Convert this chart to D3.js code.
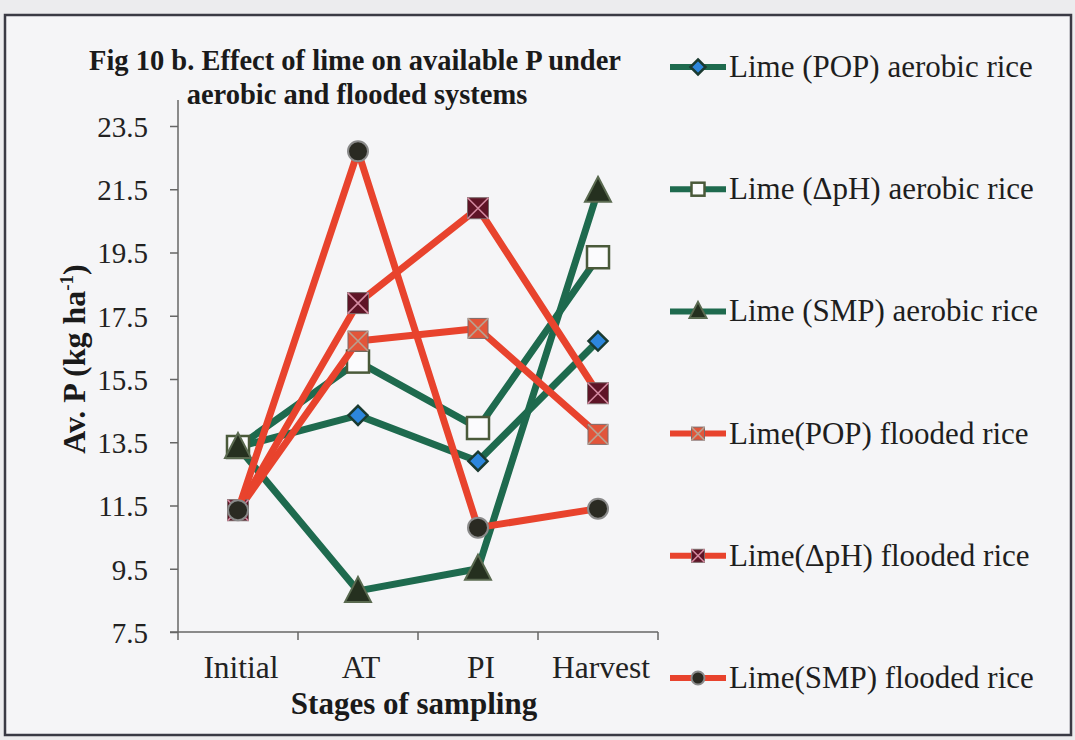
<!DOCTYPE html>
<html>
<head>
<meta charset="utf-8">
<script src="https://cdn.jsdelivr.net/npm/d3@7"></script>
<style>
  body { margin: 0; background: #ececee; }
  svg { display: block; }
  text { font-family: 'Liberation Serif', 'Times New Roman', serif; }
</style>
</head>
<body>
<svg width="1075" height="740"></svg>
<script>
const stages = ['Initial', 'AT', 'PI', 'Harvest'];
const yTicks = [7.5, 9.5, 11.5, 13.5, 15.5, 17.5, 19.5, 21.5, 23.5];

const popAerobic = [13.35, 14.35, 12.9, 16.7];
const dphAerobic = [13.35, 16.05, 13.95, 19.35];
const smpAerobic = [13.35, 8.8, 9.5, 21.45];
const popFlooded = [11.35, 16.7, 17.1, 13.75];
const dphFlooded = [11.35, 17.9, 20.9, 15.05];
const smpFlooded = [11.35, 22.7, 10.8, 11.4];

const seriesNames = [
  'Lime (POP) aerobic rice',
  'Lime (\u0394pH) aerobic rice',
  'Lime (SMP) aerobic rice',
  'Lime(POP) flooded rice',
  'Lime(\u0394pH) flooded rice',
  'Lime(SMP) flooded rice'
];

const green = '#1e6a4e';
const red = '#e8432d';
const serif = "'Liberation Serif', serif";

const series = [
  {name: seriesNames[0], values: popAerobic, color: green, marker: 'diamond'},
  {name: seriesNames[1], values: dphAerobic, color: green, marker: 'openSquare'},
  {name: seriesNames[2], values: smpAerobic, color: green, marker: 'triangle'},
  {name: seriesNames[3], values: popFlooded, color: red, marker: 'redX'},
  {name: seriesNames[4], values: dphFlooded, color: red, marker: 'maroonX'},
  {name: seriesNames[5], values: smpFlooded, color: red, marker: 'circle'}
];

const svg = d3.select('svg').attr('font-family', serif);

// frame
svg.append('rect')
  .attr('x', 5).attr('y', 15).attr('width', 1066).attr('height', 720)
  .attr('fill', '#f5f5f7').attr('stroke', '#3a3a44').attr('stroke-width', 2.5);

const plotLeft = 178, plotRight = 658, plotTop = 126, plotBottom = 632;

const x = d3.scalePoint().domain(stages).range([plotLeft, plotRight]).padding(0.5);
const y = d3.scaleLinear().domain([7.5, 23.5]).range([plotBottom, plotTop]);

// y axis
const yAxis = svg.append('g')
  .attr('transform', `translate(${plotLeft},0)`)
  .call(d3.axisLeft(y).tickValues(yTicks).tickFormat(d3.format('.1f')).tickSize(8).tickPadding(22));
yAxis.attr('font-family', serif);
yAxis.select('.domain').attr('d', `M0,${plotBottom}V100`);
yAxis.selectAll('line, path').attr('stroke', '#666').attr('stroke-width', 1.5);
yAxis.selectAll('text').attr('font-size', 29).attr('fill', '#222').attr('dy', '0.36em')
  .attr('font-family', serif);

// x axis with ticks between categories
const xAxis = svg.append('g').attr('transform', `translate(0,${plotBottom})`);
xAxis.append('line').attr('x1', plotLeft - 8).attr('x2', plotRight)
  .attr('stroke', '#666').attr('stroke-width', 1.5);
const step = x.step();
xAxis.selectAll('line.tk').data(d3.range(stages.length + 1)).enter()
  .append('line').attr('class', 'tk')
  .attr('x1', i => plotLeft + i * step).attr('x2', i => plotLeft + i * step)
  .attr('y1', 0).attr('y2', 8)
  .attr('stroke', '#666').attr('stroke-width', 1.5);
xAxis.selectAll('text').data(stages).enter()
  .append('text')
  .attr('x', d => x(d) + 3).attr('y', 46)
  .attr('text-anchor', 'middle')
  .attr('font-family', serif)
  .attr('font-size', 31.5).attr('fill', '#222')
  .text(d => d);

// titles
const title = svg.append('text').attr('text-anchor', 'middle')
  .attr('font-family', serif)
  .attr('font-weight', 'bold').attr('font-size', 28.5).attr('fill', '#1a1a1a');
title.append('tspan').attr('x', 355).attr('y', 70).text('Fig 10 b. Effect of lime on available P under');
title.append('tspan').attr('x', 357).attr('y', 104).text('aerobic and flooded systems');

svg.append('text')
  .attr('x', 414).attr('y', 714)
  .attr('text-anchor', 'middle')
  .attr('font-family', serif)
  .attr('font-weight', 'bold').attr('font-size', 31).attr('fill', '#1a1a1a')
  .text('Stages of sampling');

const yl = svg.append('text')
  .attr('transform', 'translate(85,359) rotate(-90)')
  .attr('text-anchor', 'middle')
  .attr('font-family', serif)
  .attr('font-weight', 'bold').attr('font-size', 32).attr('fill', '#1a1a1a');
yl.append('tspan').text('Av. P (kg ha');
yl.append('tspan').attr('font-size', 19).attr('dy', -12).text('-1');
yl.append('tspan').attr('dy', 12).text(')');

// markers
function drawMarker(g, type, cx, cy, s) {
  const h = s / 2;
  if (type === 'diamond') {
    g.append('path')
      .attr('d', `M${cx},${cy - h - 1}L${cx + h + 1},${cy}L${cx},${cy + h + 1}L${cx - h - 1},${cy}Z`)
      .attr('fill', '#2d86dc').attr('stroke', '#1a3a30').attr('stroke-width', 2.5);
  } else if (type === 'openSquare') {
    g.append('rect').attr('x', cx - h).attr('y', cy - h).attr('width', s).attr('height', s)
      .attr('fill', '#fbfbfd').attr('stroke', '#4a5a3a').attr('stroke-width', 2.5);
  } else if (type === 'triangle') {
    g.append('path')
      .attr('d', `M${cx},${cy - h - 3}L${cx + h + 2},${cy + h}L${cx - h - 2},${cy + h}Z`)
      .attr('fill', '#25301f').attr('stroke', '#5a6a50').attr('stroke-width', 2);
  } else if (type === 'redX' || type === 'maroonX') {
    const fill = type === 'redX' ? '#e2553a' : '#5e1426';
    const cross = type === 'redX' ? '#b8a090' : '#d48aa0';
    g.append('rect').attr('x', cx - h).attr('y', cy - h).attr('width', s).attr('height', s)
      .attr('fill', fill).attr('stroke', '#7a6a6a').attr('stroke-width', 1);
    g.append('path')
      .attr('d', `M${cx - h},${cy - h}L${cx + h},${cy + h}M${cx + h},${cy - h}L${cx - h},${cy + h}`)
      .attr('stroke', cross).attr('stroke-width', 1.6);
  } else if (type === 'circle') {
    g.append('circle').attr('cx', cx).attr('cy', cy).attr('r', h)
      .attr('fill', '#2a2a22').attr('stroke', '#8a8a8a').attr('stroke-width', 2);
  }
}

const line = d3.line().x((d, i) => x(stages[i])).y(d => y(d));
const markerSize = {diamond: 17, openSquare: 22, triangle: 22, redX: 20, maroonX: 21, circle: 20};

series.forEach(s => {
  const g = svg.append('g');
  g.append('path').datum(s.values)
    .attr('d', line)
    .attr('fill', 'none')
    .attr('stroke', s.color)
    .attr('stroke-width', 7)
    .attr('stroke-linejoin', 'round');
  s.values.forEach((v, i) => drawMarker(g, s.marker, x(stages[i]), y(v), markerSize[s.marker]));
});

// legend
const legend = svg.append('g');
series.forEach((s, i) => {
  const ly = 67 + i * 122.2;
  const g = legend.append('g');
  g.append('line').attr('x1', 670).attr('x2', 726).attr('y1', ly).attr('y2', ly)
    .attr('stroke', s.color).attr('stroke-width', 6);
  drawMarker(g, s.marker, 698, ly, 13);
  g.append('text').attr('x', 729).attr('y', ly + 10)
    .attr('font-family', serif)
    .attr('font-size', 31).attr('fill', '#1e1e1e')
    .text(s.name);
});
</script>
</body>
</html>
